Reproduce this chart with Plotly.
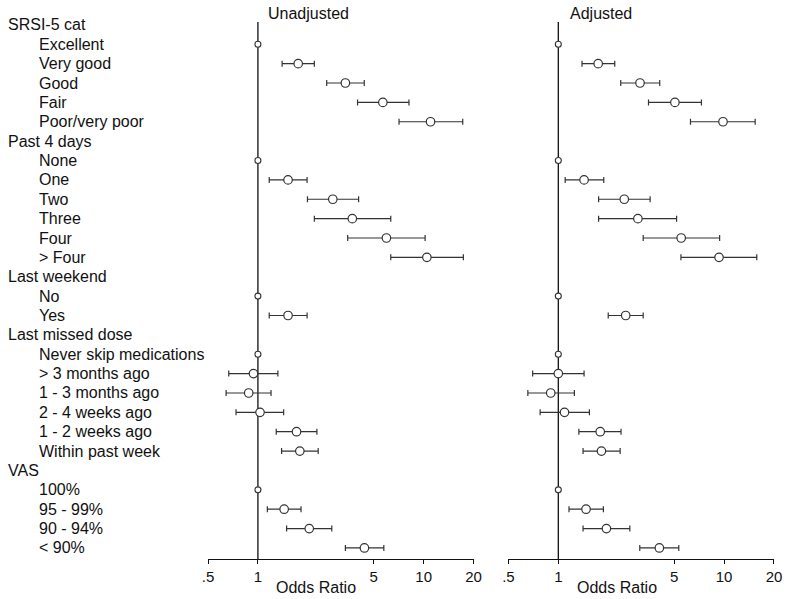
import plotly.graph_objects as go
import math

labels = ["SRSI-5 cat", "Excellent", "Very good", "Good", "Fair", "Poor/very poor",
          "Past 4 days", "None", "One", "Two", "Three", "Four", "> Four",
          "Last weekend", "No", "Yes",
          "Last missed dose", "Never skip medications", "> 3 months ago", "1 - 3 months ago",
          "2 - 4 weeks ago", "1 - 2 weeks ago", "Within past week",
          "VAS", "100%", "95 - 99%", "90 - 94%", "< 90%"]
is_header = [1, 0, 0, 0, 0, 0,
             1, 0, 0, 0, 0, 0, 0,
             1, 0, 0,
             1, 0, 0, 0, 0, 0, 0,
             1, 0, 0, 0, 0]
is_ref = [0, 1, 0, 0, 0, 0,
          0, 1, 0, 0, 0, 0, 0,
          0, 1, 0,
          0, 1, 0, 0, 0, 0, 0,
          0, 1, 0, 0, 0]

N = None
unadj_or = [N, 1, 1.75, 3.37, 5.67, 11.0,
            N, 1, 1.52, 2.83, 3.71, 5.96, 10.45,
            N, 1, 1.52,
            N, 1, 0.94, 0.88, 1.03, 1.71, 1.79,
            N, 1, 1.44, 2.04, 4.39]
unadj_lo = [N, N, 1.40, 2.60, 3.99, 7.10,
            N, N, 1.17, 1.99, 2.19, 3.48, 6.33,
            N, N, 1.17,
            N, N, 0.667, 0.643, 0.738, 1.29, 1.39,
            N, N, 1.14, 1.49, 3.37]
unadj_hi = [N, N, 2.19, 4.38, 8.15, 17.2,
            N, N, 1.98, 4.05, 6.33, 10.2, 17.35,
            N, N, 1.98,
            N, N, 1.32, 1.20, 1.43, 2.27, 2.31,
            N, N, 1.82, 2.79, 5.75]

adj_or = [N, 1, 1.74, 3.11, 5.05, 9.85,
          N, 1, 1.43, 2.50, 3.02, 5.51, 9.32,
          N, 1, 2.55,
          N, 1, 1.0, 0.90, 1.09, 1.79, 1.82,
          N, 1, 1.47, 1.95, 4.07]
adj_lo = [N, N, 1.39, 2.38, 3.50, 6.27,
          N, N, 1.10, 1.75, 1.75, 3.25, 5.49,
          N, N, 2.00,
          N, N, 0.70, 0.655, 0.777, 1.33, 1.41,
          N, N, 1.16, 1.41, 3.10]
adj_hi = [N, N, 2.19, 4.09, 7.30, 15.4,
          N, N, 1.88, 3.58, 5.17, 9.40, 15.75,
          N, N, 3.25,
          N, N, 1.43, 1.25, 1.54, 2.39, 2.36,
          N, N, 1.87, 2.70, 5.33]

tick_vals = [0.5, 1, 5, 10, 20]
tick_text = [".5", "1", "5", "10", "20"]
panel_titles = ["Unadjusted", "Adjusted"]

FONT = "Liberation Sans, Arial, sans-serif"
LC = "#333333"
rows = list(range(len(labels)))
y_top, y_bot = -0.15, 27.57

fig = go.Figure()
panels = [(unadj_or, unadj_lo, unadj_hi, "x", "y"), (adj_or, adj_lo, adj_hi, "x2", "y2")]
for (orv, lo, hi, xa, ya) in panels:
    fig.add_trace(go.Scatter(x=[1, 1], y=[y_top, y_bot], mode="lines",
                             line=dict(color="#111", width=1.3), xaxis=xa, yaxis=ya,
                             hoverinfo="skip", showlegend=False))
    ex, ey, ep, em = [], [], [], []
    rx, ry = [], []
    for i in rows:
        if orv[i] is None:
            continue
        if is_ref[i]:
            rx.append(orv[i]); ry.append(i)
        else:
            ex.append(orv[i]); ey.append(i)
            ep.append(hi[i] - orv[i]); em.append(orv[i] - lo[i])
    fig.add_trace(go.Scatter(x=ex, y=ey, mode="markers", xaxis=xa, yaxis=ya,
                             marker=dict(symbol="circle", size=8.5, color="white",
                                         line=dict(color=LC, width=1.2)),
                             error_x=dict(type="data", symmetric=False, array=ep, arrayminus=em,
                                          color=LC, thickness=1.2, width=3),
                             showlegend=False))
    fig.add_trace(go.Scatter(x=rx, y=ry, mode="markers", xaxis=xa, yaxis=ya,
                             marker=dict(symbol="circle", size=6, color="white",
                                         line=dict(color=LC, width=1.1)),
                             showlegend=False))

W, H = 794, 599
L, T = 208, 22
R = W - 777
B = H - 559
pw = W - L - R
ph = H - T - B

def px_to_paper_x(px):
    return (px - L) / pw

def px_to_paper_y(py):
    return (H - B - py) / ph

xrange_ = [math.log10(0.5), math.log10(20)]
axis_common = dict(type="log", range=xrange_, tickvals=tick_vals, ticktext=tick_text,
                   showgrid=False, zeroline=False, showline=True, linecolor="#111", linewidth=1.2,
                   ticks="outside", ticklen=4, tickcolor="#111", tickwidth=1.2,
                   tickfont=dict(family=FONT, size=15, color="#111"), fixedrange=True)
y_common = dict(range=[y_bot, y_top], showgrid=False, zeroline=False, showline=False,
                showticklabels=False, ticks="", fixedrange=True)

fig.update_layout(
    width=W, height=H,
    margin=dict(l=L, r=R, t=T, b=B),
    plot_bgcolor="white", paper_bgcolor="white",
    font=dict(family=FONT, color="#111"),
    xaxis=dict(domain=[0, px_to_paper_x(475)], anchor="y", **axis_common),
    xaxis2=dict(domain=[px_to_paper_x(510), 1], anchor="y2", **axis_common),
    yaxis=dict(domain=[0, 1], anchor="x", **y_common),
    yaxis2=dict(domain=[0, 1], anchor="x2", **y_common),
    showlegend=False,
)

annotations = []
for i, (lab, hd) in enumerate(zip(labels, is_header)):
    annotations.append(dict(text=lab, xref="paper", yref="y",
                            x=px_to_paper_x(5 if hd else 36), y=i,
                            xanchor="left", yanchor="middle", showarrow=False,
                            font=dict(family=FONT, size=16, color="#111")))
for t, px in zip(panel_titles, [266, 570]):
    annotations.append(dict(text=t, xref="paper", yref="paper",
                            x=px_to_paper_x(px), y=px_to_paper_y(13),
                            xanchor="left", yanchor="middle", showarrow=False,
                            font=dict(family=FONT, size=16, color="#111")))
for px in [317, 619]:
    annotations.append(dict(text="Odds Ratio", xref="paper", yref="paper",
                            x=px_to_paper_x(px), y=px_to_paper_y(587),
                            xanchor="center", yanchor="middle", showarrow=False,
                            font=dict(family=FONT, size=16, color="#111")))
fig.update_layout(annotations=annotations)

fig.write_html("out.html", config={"displayModeBar": False},
               post_script="document.body.style.margin='0px';document.body.style.padding='0px';")
